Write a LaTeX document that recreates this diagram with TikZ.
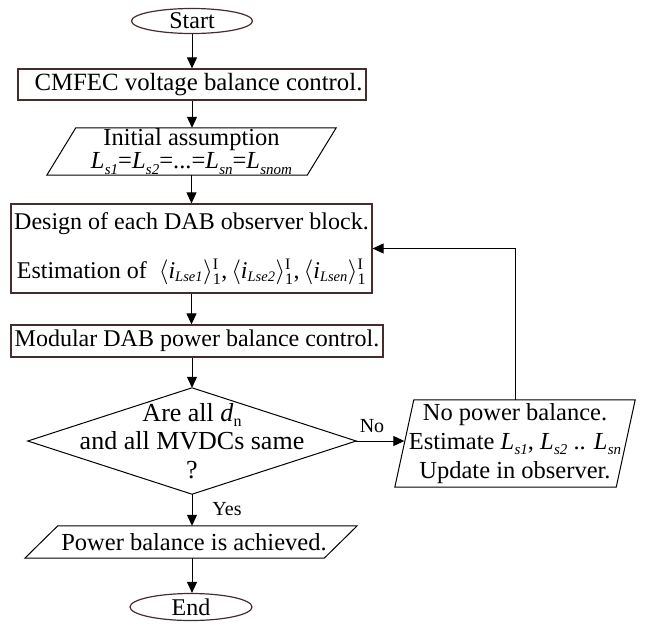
\documentclass[tikz,border=0pt]{standalone}
\usepackage{fontspec}
\usepackage{amsmath}
\setmainfont{Liberation Serif}
\usetikzlibrary{shapes.geometric,arrows.meta,calc}
\definecolor{boxcol}{RGB}{70,45,45}
\newcommand{\subsm}[1]{\raisebox{-0.22em}{\fontsize{15}{15}\selectfont\itshape #1}}
\newcommand{\Ls}[1]{\textit{L}\kern0.3pt\subsm{#1}}
\newcommand{\avgi}[1]{$\langle \textit{i}_{\text{\fontsize{14.5}{14.5}\selectfont\itshape #1}}\rangle^{\text{\fontsize{16}{16}\selectfont I}}_{\text{\fontsize{16}{16}\selectfont 1}}$}
\begin{document}
\begin{tikzpicture}[x=1pt,y=-1pt,
  txt/.style={font=\fontsize{24}{24}\selectfont, align=center, inner sep=0pt},
  boxr/.style={txt, draw=boxcol, line width=1.2pt, rectangle},
  ell/.style={txt, draw=boxcol, line width=1.2pt, ellipse},
  area/.style={txt, rectangle},
  outline/.style={draw=black, line width=1pt},
  arr/.style={-{Triangle[length=11pt,width=10pt]}, line width=1pt},
  lbl/.style={font=\fontsize{20}{20}\selectfont, inner sep=0pt}]
\useasboundingbox (0,0) rectangle (645,627);

\node[ell, minimum width=121pt, minimum height=25pt] (start) at (192,21) {Start};
\node[boxr, minimum width=348pt, minimum height=31pt, font=\fontsize{24.8}{24.8}\selectfont] (r1) at (192,84.5) {\hspace*{13pt}CMFEC voltage balance control.};

\node[area, minimum width=289pt, minimum height=47pt, font=\fontsize{24.5}{23}\selectfont] (p1) at (191.5,151.5)
  {Initial assumption\\ \Ls{s1}=\Ls{s2}=...=\Ls{sn}=\Ls{snom}};
\draw[outline] ($(p1.north west)+(29,0)$) -- (p1.north east) -- ($(p1.south east)+(-29,0)$) -- (p1.south west) -- cycle;

\node[boxr, minimum width=361pt, minimum height=89pt] (r2) at (191.5,248.5)
  {Design of each DAB observer block.\\[23pt] Estimation of~ \avgi{Lse1},\,\avgi{Lse2},\,\avgi{Lsen}};

\node[boxr, minimum width=372pt, minimum height=32pt] (r3) at (197,341) {Modular DAB power balance control.};

\node[area, minimum width=328pt, minimum height=106pt, font=\fontsize{26}{28.5}\selectfont] (d) at (192,441)
  {Are all \textit{d}\raisebox{-0.2em}{\fontsize{16}{16}\selectfont n}\\ and all MVDCs same\\ ?};
\draw[outline] (d.north) -- (d.east) -- (d.south) -- (d.west) -- cycle;

\node[area, minimum width=240pt, minimum height=87pt, font=\fontsize{24.5}{29}\selectfont] (p2) at (515,443.5)
  {No power balance.\\ Estimate \Ls{s1}, \Ls{s2} .. \Ls{sn}\hspace*{6pt}\\ Update in observer.};
\draw[outline] ($(p2.north west)+(19,0)$) -- (p2.north east) -- ($(p2.south east)+(-19,0)$) -- (p2.south west) -- cycle;
\coordinate (p2w) at ($(p2.west)+(9.5,0)$);

\node[area, minimum width=332pt, minimum height=32pt, font=\fontsize{24.5}{24.5}\selectfont] (p3) at (191,542) {\hspace*{6pt}Power balance is achieved.};
\draw[outline] ($(p3.north west)+(33,0)$) -- (p3.north east) -- ($(p3.south east)+(-33,0)$) -- (p3.south west) -- cycle;

\node[ell, minimum width=122pt, minimum height=27pt] (end) at (191,607) {End};

\draw[arr] (start.south) -- (start.south |- r1.north);
\draw[arr] (r1.south) -- (r1.south |- p1.north);
\draw[arr] (p1.south) -- (p1.south |- r2.north);
\draw[arr] (r2.south) -- (r2.south |- r3.north);
\draw[arr] (d.north |- r3.south) -- (d.north);
\draw[arr] (d.south) -- (d.south |- p3.north);
\draw[arr] (d.south |- p3.south) -- (d.south |- end.north);
\draw[arr] (d.east) -- (d.east -| p2w);
\draw[arr] (p2.north) |- (r2.east);

\node[lbl] (yes) at (227,509) {Yes};
\node[lbl] (no) at (372,426) {No};
\end{tikzpicture}
\end{document}
